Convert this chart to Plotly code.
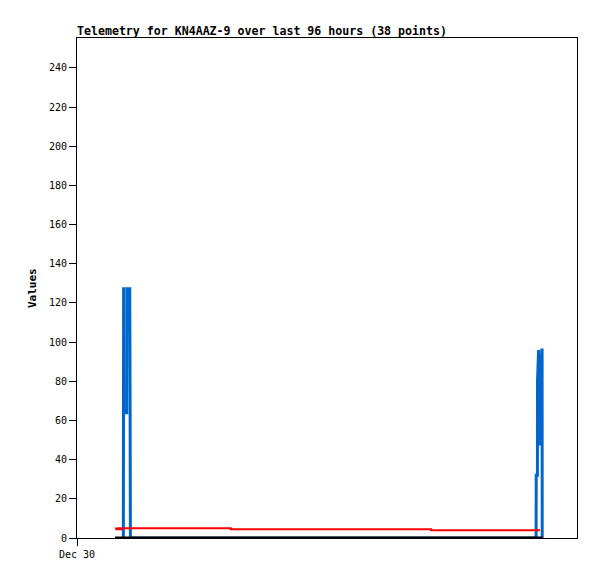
import plotly.graph_objects as go

# Time in hours since Dec 30 00:00
blue_t = [8.90, 8.92, 8.95, 8.97, 9.55, 9.58, 9.62, 10.10, 10.13, 10.20, 10.22, 10.25,
          88.15, 88.17, 88.40, 88.42, 88.62, 88.66, 88.95, 88.98, 89.25, 89.30, 89.32]
blue_v = [0, 128, 128, 64, 64, 128, 106, 106, 128, 64, 21, 0,
          0, 32, 32, 80, 96, 48, 48, 80, 96, 96, 0]

red_t = [7.3, 7.6, 7.9, 8.2, 8.6, 9.0, 29.5, 68.0, 88.9]
red_v = [4.8, 4.5, 5.0, 4.5, 5.0, 5.0, 4.5, 4.0, 4.0]

black_t = [7.3, 89.4]
black_v = [0, 0]

y_ticks = list(range(0, 241, 20))
x_tickvals = [0]
x_ticktext = ["Dec 30"]

fig = go.Figure()
fig.add_trace(go.Scatter(x=blue_t, y=blue_v, mode="lines",
                         line=dict(color="#0066CC", width=3), showlegend=False))
fig.add_trace(go.Scatter(x=red_t, y=red_v, mode="lines", line_shape="hv",
                         line=dict(color="#FF0000", width=2), showlegend=False))
fig.add_trace(go.Scatter(x=black_t, y=black_v, mode="lines",
                         line=dict(color="#000000", width=3), showlegend=False))

mono = "DejaVu Sans Mono"
W, H = 589, 571
fig.update_layout(
    width=W, height=H,
    margin=dict(l=69, r=20, t=30, b=41),
    paper_bgcolor="white", plot_bgcolor="white",
    title=dict(text="<b>Telemetry for KN4AAZ-9 over last 96 hours (38 points)</b>",
               x=69/W, xanchor="left", xref="container",
               y=1-23/H, yanchor="middle", yref="container",
               font=dict(family=mono, size=11.6, color="black")),
    xaxis=dict(range=[0, 96], tickvals=x_tickvals, ticktext=x_ticktext,
               ticks="outside", ticklen=7, tickcolor="black",
               showgrid=False, zeroline=False, showline=True, linecolor="black",
               linewidth=1, mirror=True,
               tickfont=dict(family=mono, size=10, color="black")),
    yaxis=dict(range=[0, 255.3], tickvals=y_ticks,
               ticks="outside", ticklen=7, tickcolor="black",
               showgrid=False, zeroline=False, showline=True, linecolor="black",
               linewidth=1, mirror=True,
               tickfont=dict(family=mono, size=10, color="black")),
    annotations=[dict(text="<b>Values</b>", x=(32-77)/500, y=0.5,
                      xref="paper", yref="paper", textangle=-90,
                      showarrow=False, xanchor="center", yanchor="middle",
                      font=dict(family=mono, size=11, color="black"))],
)

fig.write_html("out.html")
